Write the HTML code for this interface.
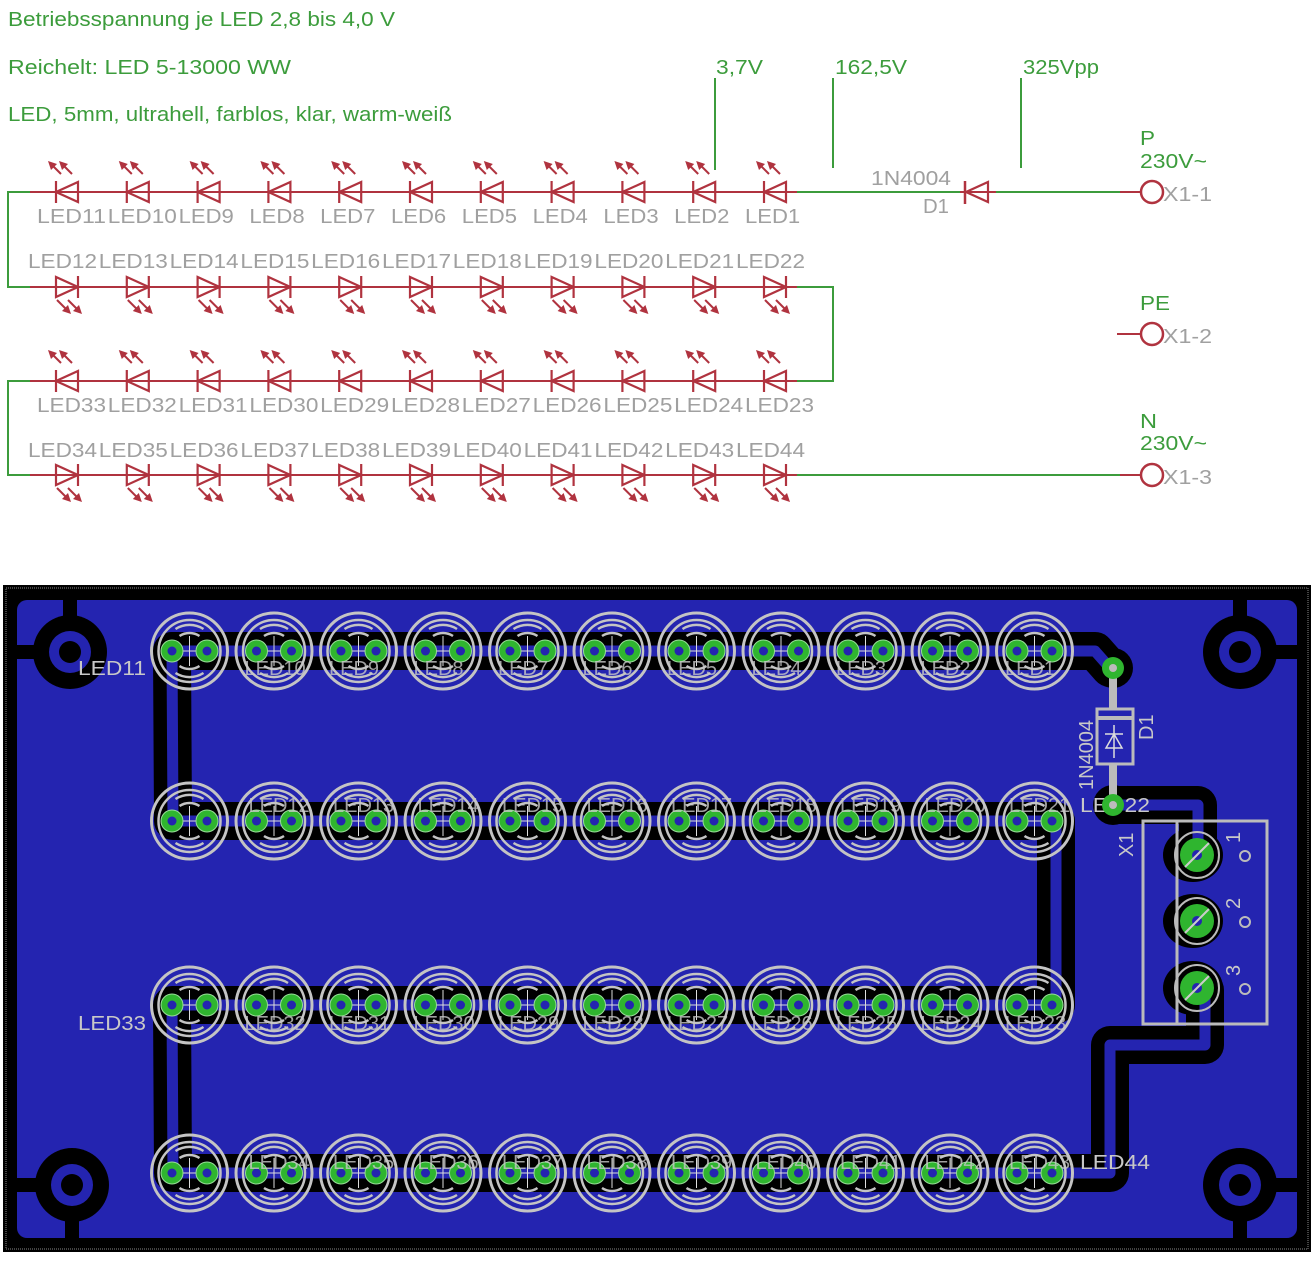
<!DOCTYPE html>
<html><head><meta charset="utf-8"><style>
html,body{margin:0;padding:0;background:#fff;width:1313px;height:1272px;overflow:hidden}
svg{display:block}
</style></head><body>
<svg id="s" width="1313" height="1272" xmlns="http://www.w3.org/2000/svg" font-family="Liberation Sans, sans-serif"></svg>
<script>
var R='#b0333f',G='#3c9c3c',GR='#a0a0a0',PG='#c4c4c4',BL='#2424b0';
var o=[];
function t(x,y,s,c,sz,a,extra){o.push('<text x="'+x+'" y="'+y+'" fill="'+c+'" font-size="'+(sz||19)+'"'+(a?' text-anchor="'+a+'"':'')+(extra||'')+'>'+s+'</text>');}
function tl(x,y,s,c,sz,w,a){t(x,y,s,c,sz,a,' textLength="'+w+'" lengthAdjust="spacingAndGlyphs"');}
function l(x1,y1,x2,y2,c,w){o.push('<line x1="'+x1+'" y1="'+y1+'" x2="'+x2+'" y2="'+y2+'" stroke="'+c+'" stroke-width="'+(w||2)+'"/>');}
// ===== schematic =====
tl(8,26,'Betriebsspannung je LED 2,8 bis 4,0 V',G,20,387);
tl(8,74,'Reichelt: LED 5-13000 WW',G,20,283);
tl(8,121,'LED, 5mm, ultrahell, farblos, klar, warm-weiß',G,20,444);
tl(716,74,'3,7V',G,20,47);tl(835,74,'162,5V',G,20,72);tl(1023,74,'325Vpp',G,20,76);
l(715,78,715,170,G);l(833,78,833,168,G);l(1021,78,1021,168,G);
var xs=[];for(var i=0;i<11;i++)xs.push(67+i*70.8);
var rows=[[192,-1,'up'],[287,1,'dn'],[381,-1,'up'],[475,1,'dn']];
rows.forEach(function(r,ri){
 var y=r[0];l(30,y,797,y,R,2);
 xs.forEach(function(x,i){
  var d=r[1];var tip=x+d*11,base=x-d*11;
  o.push('<polygon points="'+base+','+(y-10)+' '+base+','+(y+10)+' '+tip+','+y+'" fill="none" stroke="'+R+'" stroke-width="2.2"/>');
  l(tip,y-11,tip,y+11,R,2.2);
  for(var k=0;k<2;k++){var ax=x-6+k*11;
   if(r[2]=='up'){var y0=y-18;l(ax,y0,ax-10,y0-10,R,2);o.push('<polygon points="'+(ax-13)+','+(y0-13)+' '+(ax-4)+','+(y0-10)+' '+(ax-10)+','+(y0-4)+'" fill="'+R+'"/>');}
   else{var y0=y+13;l(ax-4,y0,ax+7,y0+11,R,2);o.push('<polygon points="'+(ax+10)+','+(y0+14)+' '+(ax+1)+','+(y0+11)+' '+(ax+7)+','+(y0+5)+'" fill="'+R+'"/>');}
  }
 });
});
function lab(x,y,s){tl(x,y,s,GR,20,s.length*13.8);}
var n1=['LED11','LED10','LED9','LED8','LED7','LED6','LED5','LED4','LED3','LED2','LED1'];
n1.forEach(function(s,i){lab(37+i*70.8,223,s);});
for(var i=0;i<11;i++){lab(28+i*70.8,268,'LED'+(12+i));lab(37+i*70.8,412,'LED'+(33-i));lab(28+i*70.8,457,'LED'+(34+i));}
// wires
o.push('<polyline points="30,192 8,192 8,287 30,287" fill="none" stroke="'+G+'" stroke-width="2"/>');
o.push('<polyline points="797,287 833,287 833,381 797,381" fill="none" stroke="'+G+'" stroke-width="2"/>');
o.push('<polyline points="30,381 8,381 8,475 30,475" fill="none" stroke="'+G+'" stroke-width="2"/>');
l(797,192,962,192,G);l(995,192,1120,192,G);l(1120,192,1141,192,R);
l(797,475,1120,475,G);l(1120,475,1141,475,R);l(1117,334,1141,334,R);
// D1
o.push('<polygon points="988,182 988,202 966,192" fill="none" stroke="'+R+'" stroke-width="2.2"/>');l(965,181,965,204,R,2.5);l(960,192,996,192,R,2);
tl(871,185,'1N4004',GR,20,80);tl(923,213,'D1',GR,20,26);
[192,334,475].forEach(function(y,i){o.push('<circle cx="1152" cy="'+y+'" r="11" fill="none" stroke="'+R+'" stroke-width="2.5"/>');tl(1163,y+9,'X1-'+(i+1),GR,20,49);});
tl(1140,145,'P',G,20,15);tl(1140,168,'230V~',G,20,67);tl(1140,310,'PE',G,20,30);tl(1140,428,'N',G,20,17);tl(1140,450,'230V~',G,20,67);
// ===== PCB =====
o.push('<rect x="3" y="585" width="1308" height="667" fill="#000"/>');
o.push('<rect x="6" y="588" width="1302" height="661" fill="none" stroke="#888" stroke-width="1" stroke-dasharray="1,1"/>');
o.push('<rect x="17" y="600" width="1280" height="638" rx="10" fill="'+BL+'"/>');
// mounting holes
[[70,652],[1240,652],[72,1185],[1240,1185]].forEach(function(p){
 var x=p[0],y=p[1];
 l(x,y,x>600?1297:17,y,'#000',14);l(x,y,x,y<900?600:1238,'#000',14);
 o.push('<circle cx="'+x+'" cy="'+y+'" r="37" fill="#000"/><circle cx="'+x+'" cy="'+y+'" r="21" fill="'+BL+'"/><circle cx="'+x+'" cy="'+y+'" r="11" fill="#000"/>');
});
function trace(pts){o.push('<polyline points="'+pts+'" fill="none" stroke="#000" stroke-width="38" stroke-linejoin="round" stroke-linecap="round"/>');}
function trace2(pts){o.push('<polyline points="'+pts+'" fill="none" stroke="'+BL+'" stroke-width="11" stroke-linejoin="round" stroke-linecap="round"/>');}
var ry=[651,821,1005,1173];
var T=['172,651 1095,651 1110,668','172,651 173,821 1056,821 1056,1005 172,1005 173,1173 1110,1173 1110,1045 1205,1045 1205,990','1113,805 1198,805 1198,855'];
T.forEach(trace);
o.push('<ellipse cx="1193" cy="855" rx="30" ry="27" fill="#000"/><ellipse cx="1193" cy="921" rx="30" ry="27" fill="#000"/><ellipse cx="1193" cy="988" rx="30" ry="27" fill="#000"/>');
o.push('<circle cx="1113" cy="668" r="20" fill="#000"/><circle cx="1113" cy="805" r="20" fill="#000"/>');
T.forEach(trace2);
// LED footprints
for(var r=0;r<4;r++)for(var i=0;i<11;i++){
 var x1=172+i*84.5,x2=x1+35,cx=x1+17.5,y=ry[r];
 o.push('<circle cx="'+cx+'" cy="'+y+'" r="38" fill="none" stroke="'+PG+'" stroke-width="3"/>');
 o.push('<circle cx="'+cx+'" cy="'+y+'" r="31" fill="none" stroke="'+PG+'" stroke-width="2.5"/>');
 o.push('<path d="M'+(cx-14)+','+(y-22)+' A26,26 0 0 1 '+(cx+14)+','+(y-22)+' M'+(cx-10)+','+(y-15)+' A18,18 0 0 1 '+(cx+10)+','+(y-15)+' M'+(cx-14)+','+(y+22)+' A26,26 0 0 0 '+(cx+14)+','+(y+22)+' M'+(cx-10)+','+(y+15)+' A18,18 0 0 0 '+(cx+10)+','+(y+15)+'" fill="none" stroke="'+PG+'" stroke-width="2.5"/>');
 l(x1,y,x2,y,'#ddd',1);l(cx,y-15,cx,y+15,'#ddd',1);
 [x1,x2].forEach(function(x){o.push('<circle cx="'+x+'" cy="'+y+'" r="11" fill="#2fb52f" stroke="#9d9" stroke-width="1"/><circle cx="'+x+'" cy="'+y+'" r="4.5" fill="'+BL+'"/>');});
}
// PCB labels
var LC='#c8c8c8';
tl(78,675,'LED11',LC,20,68);tl(78,1030,'LED33',LC,20,68);tl(1080,1169,'LED44',LC,20,70);tl(1080,812,'LED22',LC,20,70);
for(var i=1;i<11;i++){var x=172+i*84.5-12;t(x,675,'LED'+(11-i),LC,20,null,' opacity="0.8"');t(x+4,812,'LED'+(11+i),LC,20,null,' opacity="0.8"');t(x,1030,'LED'+(33-i),LC,20,null,' opacity="0.8"');t(x+4,1169,'LED'+(33+i),LC,20,null,' opacity="0.8"');}
// D1
l(1113,668,1113,805,'#bbb',8);
o.push('<rect x="1097" y="709" width="36" height="55" fill="'+BL+'" stroke="#bbb" stroke-width="3"/>');l(1097,718,1133,718,'#bbb',4);
o.push('<polygon points="1106,748 1122,748 1114,734" fill="none" stroke="#ddd" stroke-width="1.5"/>');l(1105,734,1123,734,'#ddd',1.5);l(1114,725,1114,758,'#ddd',1.5);
o.push('<circle cx="1113" cy="668" r="11" fill="#2fb52f"/><circle cx="1113" cy="805" r="11" fill="#2fb52f"/><circle cx="1113" cy="668" r="4" fill="#bbb"/><circle cx="1113" cy="805" r="4" fill="#bbb"/>');
t(0,0,'1N4004',LC,20,null,' transform="translate(1093,790) rotate(-90)"');
t(0,0,'D1',LC,20,null,' transform="translate(1153,740) rotate(-90)"');
t(0,0,'X1',LC,20,null,' transform="translate(1133,857) rotate(-90)"');
// X1
o.push('<rect x="1143" y="821" width="124" height="203" fill="none" stroke="#bbb" stroke-width="3"/>');l(1177,821,1177,1024,'#bbb',3);
[855,921,988].forEach(function(y,i){
 o.push('<ellipse cx="1197" cy="'+y+'" rx="22" ry="23" fill="none" stroke="#bbb" stroke-width="2"/><ellipse cx="1197" cy="'+y+'" rx="17" ry="17" fill="#2fb52f"/><circle cx="1197" cy="'+y+'" r="5" fill="'+BL+'"/>');
 l(1185,y+12,1209,y-12,'#ccc',2);
 o.push('<circle cx="1245" cy="'+(y+1)+'" r="5" fill="none" stroke="#bbb" stroke-width="2"/>');
 t(0,0,String(i+1),LC,20,null,' transform="translate('+(1240)+','+(y-12)+') rotate(-90)"');
});
document.getElementById('s').innerHTML=o.join('');
</script>
</body></html>
